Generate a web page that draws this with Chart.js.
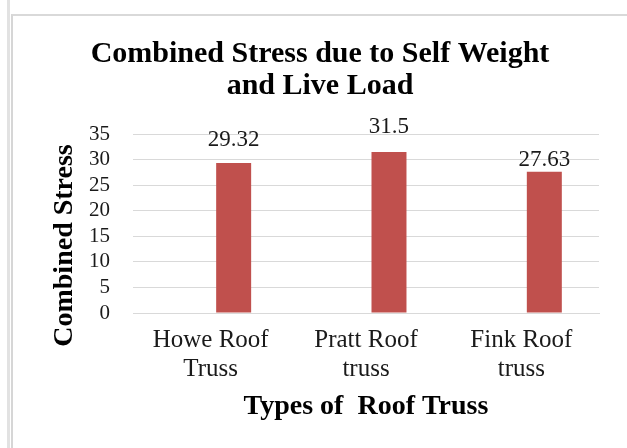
<!DOCTYPE html>
<html>
<head>
<meta charset="utf-8">
<script src="https://cdn.jsdelivr.net/npm/chart.js@4/dist/chart.umd.min.js"></script>
<style>
  html, body { margin: 0; padding: 0; background: #ffffff; }
  #wrap { position: relative; width: 627px; height: 448px; overflow: hidden; }
  #outerLine { position: absolute; left: 7px; top: 0; width: 3px; height: 448px; background: #e2e2e2; }
  #frame { position: absolute; left: 11px; top: 14px; width: 640px; height: 460px;
           border-left: 2px solid #d6d6d6; border-top: 2px solid #d9d9d9; box-sizing: border-box; }
  canvas { position: absolute; left: 0; top: 0; }
</style>
</head>
<body>
<div id="wrap">
  <div id="outerLine"></div>
  <div id="frame"></div>
  <canvas id="chart" width="627" height="448"></canvas>
</div>
<script>
// ---- data ----
const chartTitle = ['Combined Stress due to Self Weight', 'and Live Load'];
const categories = [['Howe Roof', 'Truss'], ['Pratt Roof', 'truss'], ['Fink Roof', 'truss']];
const combinedStress = [29.32, 31.5, 27.63];
const placeholderSeries = [null, null, null]; // empty first series of the source chart
const yAxisMin = 0;
const yAxisMax = 35;
const yAxisStep = 5;
const xAxisTitle = 'Types of  Roof Truss';
const yAxisTitle = 'Combined Stress';

// ---- style ----
const serif = "'Liberation Serif', 'Times New Roman', serif";
const barColor = '#C0504D';
const gridColor = '#d9d9d9';
const labelGap = [17, 19, 6]; // px between bar top and its value label

Chart.defaults.font.family = serif;

const valueLabels = {
  id: 'valueLabels',
  afterDatasetsDraw(chart) {
    const ctx = chart.ctx;
    const meta = chart.getDatasetMeta(1);
    ctx.save();
    ctx.font = '23px ' + serif;
    ctx.fillStyle = '#1a1a1a';
    ctx.textAlign = 'center';
    ctx.textBaseline = 'alphabetic';
    meta.data.forEach((bar, i) => {
      ctx.fillText(String(combinedStress[i]), bar.x, bar.y - labelGap[i]);
    });
    ctx.restore();
  }
};

const yTitle = {
  id: 'yTitle',
  afterDraw(chart) {
    const ctx = chart.ctx;
    const area = chart.chartArea;
    ctx.save();
    ctx.translate(72, (area.top + area.bottom) / 2 + 22);
    ctx.rotate(-Math.PI / 2);
    ctx.font = 'bold 28px ' + serif;
    ctx.fillStyle = '#000';
    ctx.textAlign = 'center';
    ctx.textBaseline = 'alphabetic';
    ctx.fillText(yAxisTitle, 0, 0);
    ctx.restore();
  }
};

new Chart(document.getElementById('chart'), {
  type: 'bar',
  data: {
    labels: categories,
    datasets: [
      { label: '', data: placeholderSeries, backgroundColor: barColor,
        categoryPercentage: 0.592, barPercentage: 0.761 },
      { label: 'Combined Stress', data: combinedStress, backgroundColor: barColor,
        categoryPercentage: 0.592, barPercentage: 0.761 }
    ]
  },
  options: {
    responsive: false,
    animation: false,
    layout: { padding: { left: 41, right: 28, top: 0, bottom: 0 } },
    plugins: {
      legend: { display: false },
      tooltip: { enabled: false },
      title: {
        display: true,
        text: chartTitle,
        color: '#000',
        font: { size: 30, weight: 'bold', family: serif, lineHeight: '32px' },
        padding: { top: 38, bottom: 32 }
      }
    },
    scales: {
      x: {
        grid: { display: false, drawTicks: false },
        border: { display: true, color: gridColor, width: 1 },
        ticks: { color: '#1a1a1a', font: { size: 25, family: serif, lineHeight: 1.16 },
                 padding: 13, maxRotation: 0, autoSkip: false },
        title: { display: true, text: xAxisTitle, color: '#000',
                 font: { size: 28, weight: 'bold', family: serif, lineHeight: 1.2 },
                 padding: { top: 0, bottom: 24 } },
        afterFit(scale) { scale.height = 135; }
      },
      y: {
        min: yAxisMin,
        max: yAxisMax,
        ticks: { stepSize: yAxisStep, autoSkip: false, color: '#1a1a1a',
                 font: { size: 21, family: serif }, padding: 23 },
        grid: { color: gridColor, lineWidth: 1, drawTicks: false },
        border: { display: false },
        afterFit(scale) { scale.width = 92; }
      }
    }
  },
  plugins: [valueLabels, yTitle]
});
</script>
</body>
</html>
